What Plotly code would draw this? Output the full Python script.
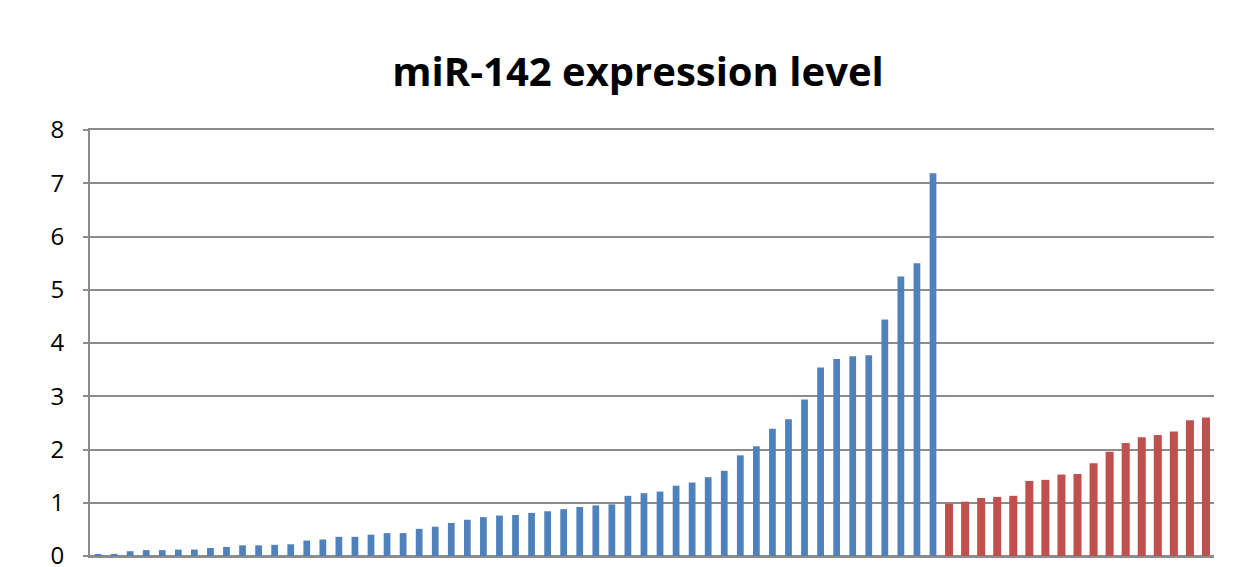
import plotly.graph_objects as go

title_text = "miR-142 expression level"
y_ticks = [0, 1, 2, 3, 4, 5, 6, 7, 8]

blue_values = [0.02, 0.04, 0.09, 0.11, 0.11, 0.12, 0.12, 0.15, 0.17, 0.20,
               0.20, 0.21, 0.22, 0.29, 0.31, 0.36, 0.36, 0.40, 0.43, 0.43,
               0.51, 0.55, 0.62, 0.68, 0.73, 0.76, 0.77, 0.81, 0.84, 0.88,
               0.92, 0.95, 0.97, 1.13, 1.18, 1.21, 1.32, 1.38, 1.48, 1.60,
               1.89, 2.06, 2.39, 2.57, 2.94, 3.54, 3.70, 3.75, 3.77, 4.44,
               5.25, 5.50, 7.19]
red_values = [0.98, 1.02, 1.09, 1.11, 1.13, 1.41, 1.43, 1.53, 1.54, 1.74,
              1.96, 2.12, 2.23, 2.27, 2.34, 2.55, 2.60]

blue_x = list(range(len(blue_values)))
red_x = list(range(len(blue_values), len(blue_values) + len(red_values)))
n_total = len(blue_values) + len(red_values)

W, H = 1236, 559

fig = go.Figure()
fig.add_trace(go.Bar(x=blue_x, y=blue_values, marker=dict(color="#4F81BD", line=dict(width=0)),
                     width=0.42, showlegend=False))
fig.add_trace(go.Bar(x=red_x, y=red_values, marker=dict(color="#C0504D", line=dict(width=0)),
                     width=0.5, showlegend=False))

fig.update_layout(
    width=W, height=H,
    margin=dict(l=82, r=30, t=122, b=11),
    paper_bgcolor="white", plot_bgcolor="white",
    barmode="overlay",
    title=dict(text="<b>" + title_text + "</b>", x=(638 - 8) / W, xanchor="center",
               y=1 - 64 / H, yanchor="middle",
               font=dict(family="Open Sans", size=40, color="#000000")),
    xaxis=dict(range=[-0.5, n_total - 0.5], showticklabels=False, showgrid=False,
               zeroline=False, showline=True, mirror=True, linecolor="#8C8C8C", linewidth=2,
               ticks="", automargin=False),
    yaxis=dict(range=[0, 8], tickvals=y_ticks, showgrid=True, gridcolor="#8C8C8C", gridwidth=2,
               zeroline=True, zerolinecolor="#8C8C8C", zerolinewidth=2,
               showline=True, linecolor="#8C8C8C", linewidth=2,
               ticks="outside", ticklen=5, tickcolor="#8C8C8C", tickwidth=2,
               ticklabeloverflow="allow", automargin=False,
               tickfont=dict(family="Open Sans", size=24, color="#000000"), ticklabelstandoff=14),
)
fig.write_html("out.html")
